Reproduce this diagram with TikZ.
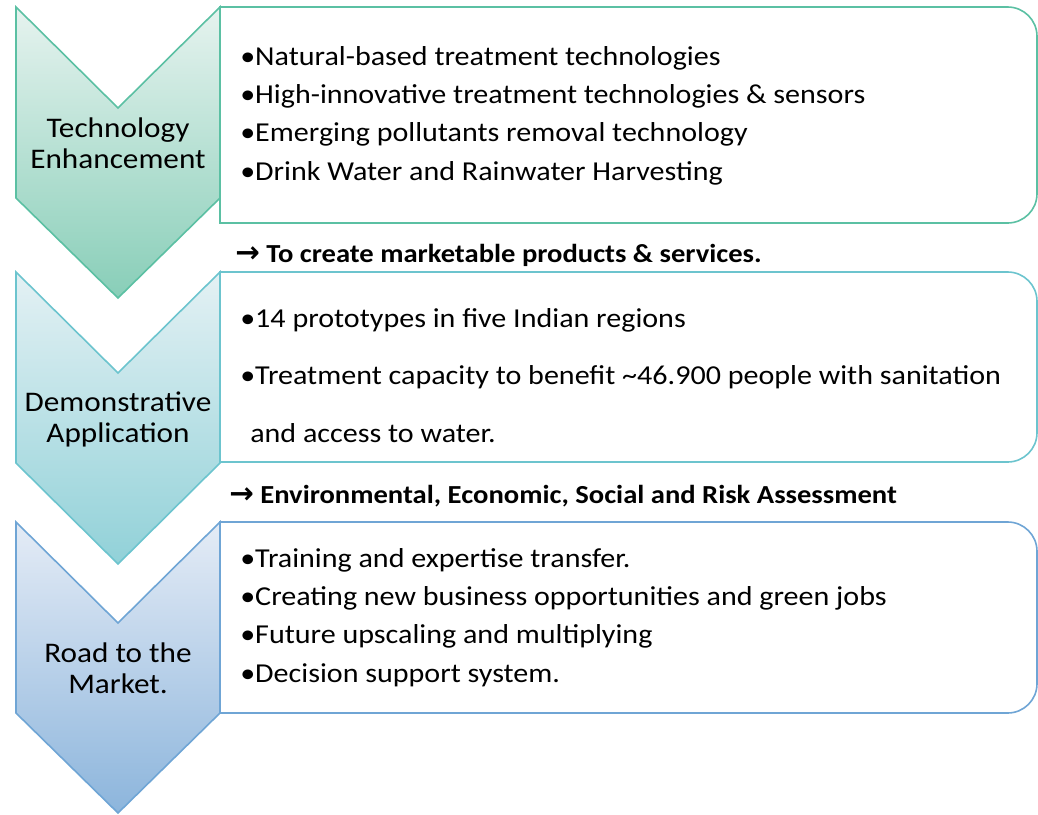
\documentclass[tikz,border=0pt]{standalone}
\usepackage{fontspec}
\setmainfont{Carlito}[FakeStretch=1.1]
\newfontfamily\arrowfont{DejaVu Sans}
\usepackage{xcolor}

\definecolor{techline}{HTML}{5BC0A3}
\definecolor{techtop}{HTML}{E6F3EF}
\definecolor{techbot}{HTML}{88CEB8}
\definecolor{demoline}{HTML}{6CC4CE}
\definecolor{demotop}{HTML}{E4F1F4}
\definecolor{demobot}{HTML}{91D1D8}
\definecolor{roadline}{HTML}{6FA5D5}
\definecolor{roadtop}{HTML}{E5ECF6}
\definecolor{roadbot}{HTML}{8CB5DC}

\tikzset{
    chev/.style = {line width=1.2pt},
    frame/.style = {line width=1.2pt},
    label/.style = {font=\fontsize{21.3}{23.25}\selectfont, align=center, anchor=base, inner sep=0pt},
    items/.style = {font=\fontsize{20.5}{28.7}\selectfont, align=left, anchor=base west, inner sep=0pt},
    note/.style = {font=\bfseries\fontsize{19.5}{24}\selectfont, anchor=base west, inner sep=0pt}
}
\newcommand{\notearrow}{{\arrowfont\fontsize{22}{24}\selectfont →}}

\begin{document}
\begin{tikzpicture}[x = 0.75pt, y = -0.75pt]
        \useasboundingbox (0,0) rectangle (1038,814);

        % boxes on the right
        \draw[frame, techline] (220,7) [rounded corners=22] -- (1037,7) -- (1037,223) [sharp corners] -- (220,223) -- cycle;
        \draw[frame, demoline] (220,272) [rounded corners=22] -- (1037,272) -- (1037,462) [sharp corners] -- (220,462) -- cycle;
        \draw[frame, roadline] (220,522) [rounded corners=22] -- (1037,522) -- (1037,713) [sharp corners] -- (220,713) -- cycle;

        % chevrons
        \path[chev, draw = techline, top color = techtop, bottom color = techbot]
            (16,7) -- (118,108) -- (220,7) -- (220,198) -- (118,298) -- (16,198) -- cycle;
        \path[chev, draw = demoline, top color = demotop, bottom color = demobot]
            (16,272) -- (118,373) -- (220,272) -- (220,463) -- (118,564) -- (16,463) -- cycle;
        \path[chev, draw = roadline, top color = roadtop, bottom color = roadbot]
            (16,522) -- (118,623) -- (220,522) -- (220,713) -- (118,813) -- (16,713) -- cycle;

        % base anchor = last line
        \node[label] (tech) at (118,168) {Technology\\Enhancement};
        \node[label] (demo) at (118,442) {Demonstrative\\Application};
        \node[label] (road) at (118,693) {Road to the\\Market.};

        \node[items] (techlist) at (240,180) {\textbullet Natural-based treatment technologies\\
            \textbullet High-innovative treatment technologies \& sensors\\
            \textbullet Emerging pollutants removal technology\\
            \textbullet Drink Water and Rainwater Harvesting};
        \node[items, font = \fontsize{20.5}{43.1}\selectfont] (demolist) at (240,442) {\textbullet 14 prototypes in five Indian regions\\
            \textbullet Treatment capacity to benefit \textasciitilde 46.900 people with sanitation\\
            \hspace{7.5pt}and access to water.};
        \node[items] (roadlist) at (240,682) {\textbullet Training and expertise transfer.\\
            \textbullet Creating new business opportunities and green jobs\\
            \textbullet Future upscaling and multiplying\\
            \textbullet Decision support system.};

        \node[note] (goal) at (235,262) {\notearrow~To create marketable products \& services.};
        \node[note] (assess) at (229,503) {\notearrow~Environmental, Economic, Social and Risk Assessment};
    \end{tikzpicture}
\end{document}
